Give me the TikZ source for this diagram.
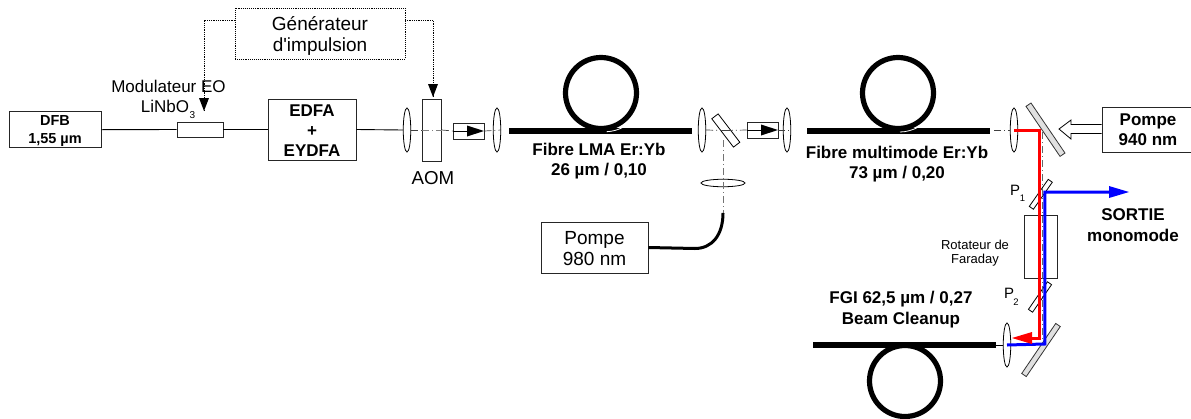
\documentclass[tikz,border=0pt]{standalone}
\usepackage{fontspec}
\setmainfont{Liberation Sans}
\newfontfamily\plainf{Liberation Sans}
\usetikzlibrary{shapes.geometric,calc}
\newcommand{\fs}[2]{\fontsize{#1}{#2}\selectfont}
\definecolor{edge}{gray}{0.15}
\definecolor{plate}{gray}{0.88}
\tikzset{
  box/.style={draw=edge,line width=0.9pt,fill=white,inner sep=0pt,align=center},
  lensv/.style={ellipse,draw=black,line width=0.8pt,fill=white,inner sep=0pt,minimum width=7.5pt,minimum height=44pt},
  lensh/.style={ellipse,draw=black,line width=0.8pt,fill=white,inner sep=0pt,minimum width=44pt,minimum height=7.5pt},
  txt/.style={inner sep=0pt,align=center,text=black},
  wire/.style={draw=black,line width=0.9pt},
  axis/.style={draw=black!75,line width=0.7pt,dash pattern=on 7pt off 3pt on 1pt off 3pt},
  ctl/.style={draw=black,line width=0.8pt,densely dotted},
  fibre/.style={draw=black,line width=6pt},
  loopf/.style={draw=black,line width=5.2pt},
  gapline/.style={draw=white,line width=0.8pt},
  plategray/.style={draw=black!80,line width=0.8pt,fill=plate,inner sep=0pt},
  platewhite/.style={draw=black,line width=0.8pt,fill=white,inner sep=0pt},
  redb/.style={draw=red,line width=3pt},
  blueb/.style={draw=blue,line width=3pt},
}
\begin{document}
\begin{tikzpicture}[x=1pt,y=-1pt]
\useasboundingbox (0,0) rectangle (1191,418);

% main boxes
\node[box,minimum width=92pt,minimum height=36pt] (dfb) at (55,129.7) {};
\node[txt,font=\bfseries\fs{14.5}{18}] (dfbt) at (55,131) {DFB\\1,55 µm};
\node[box,minimum width=46pt,minimum height=15pt] (mod) at (200,129.5) {};
\node[box,minimum width=88pt,minimum height=61pt] (edfa) at (312,129.5) {};
\node[txt,font=\bfseries\fs{17}{20}] (edfat) at (312,131) {EDFA\\+\\EYDFA};
\node[box,draw=black,densely dotted,line width=0.8pt,minimum width=170pt,minimum height=51pt] (gen) at (320,33.5) {};
\node[txt,font=\fs{19}{21}] (gent) at (320,36) {Générateur\\{\plainf d'impulsion}};
\coordinate (genl) at (235,20);
\coordinate (genr) at (405,20);
\coordinate (modtip) at (204,111);
\coordinate (aomtip) at (433,97);

% connectors of the seed
\draw[wire] (dfb.east) -- (mod.west);
\draw[wire] (mod.east) -- (edfa.west);

% AOM section
\node[lensv] (l1) at (407,130) {};
\draw[wire] (edfa.east) -- (l1.west);
\node[box,minimum width=19pt,minimum height=62pt] (aom) at (432,130) {};
\node[lensv] (l2) at (497,130) {};
\node[box,minimum width=31pt,minimum height=16pt] (iso1) at (468.5,131) {};
\draw[axis] (l1.east) -- (aom.west);
\draw[axis,draw=black!50] (aom.west) -- (aom.east);
\draw[axis] (aom.east) -- (iso1.west);
\draw[axis] (iso1.east) -- (l2.east);
\draw[wire] (iso1.west) -- ++(16,0);
\fill[black] (484,131) -- (467,125.5) -- (467,136.5) -- cycle;

% control lines
\draw[ctl] (genl) -| (modtip);
\fill[black] (204,111) -- (199,98) -- (209,98) -- cycle;
\draw[ctl] (genr) -| (aomtip);
\fill[black] (433,97) -- (428,84) -- (438,84) -- cycle;

% labels
\node[txt,font=\fs{17}{17}] (modl) at (168.5,86) {Modulateur EO};
\node[txt,font=\fs{17}{17}] (libn) at (165,106) {LiNbO};
\node[txt,font=\fs{10}{10}] (libns) at (192.5,115.5) {3};
\node[txt,font=\fs{18.7}{19}] (aoml) at (433,178) {AOM};

% fibre LMA
\node[lensv] (l3) at (702,130) {};
\draw[loopf] (601,93) circle (35.5);
\draw[fibre] (509,130.5) -- (692,130.5);
\draw[gapline] (606.7,131.7) .. controls (612,131.5) and (618,130) .. (623,127.3);
\node[txt,font=\bfseries\fs{17}{19.5}] (lmat) at (599,161) {Fibre LMA Er:Yb\\26 µm / 0,10};

% dichroic + 980 pump
\node[lensh] (l4) at (723,183) {};
\node[platewhite,rotate=-52.6,minimum width=35.7pt,minimum height=8pt] (m1) at (725.8,130.5) {};
\node[box,minimum width=107pt,minimum height=51pt] (p980) at (594.5,247.5) {};
\node[txt,font=\fs{19}{21}] (p980t) at (594.5,248.5) {Pompe\\980 nm};
\coordinate (fp) at (723,213);
\coordinate (mf) at (723,140);
\draw[axis,draw=black!55,line width=0.9pt] (mf) -- (fp);
\draw[black,line width=3pt] (p980.east) -- (695,248.5) .. controls (712,248.5) and (723,235) .. (fp);
\node[box,minimum width=31pt,minimum height=16pt] (iso2) at (762.5,130) {};
\node[lensv] (l5) at (787,130) {};
\draw[axis] (l3.east) -- (m1.center);
\draw[axis] (m1.center) -- (iso2.west);
\draw[wire] (iso2.west) -- ++(16,0);
\fill[black] (778,130) -- (761,124.5) -- (761,135.5) -- cycle;
\draw[axis] (iso2.east) -- (l5.east);

% fibre multimode
\draw[loopf] (898,93) circle (35.5);
\draw[fibre] (807,130.5) -- (990,130.5);
\draw[gapline] (900,132) .. controls (906,132) and (913,130) .. (918,127.3);
\node[txt,font=\bfseries\fs{17}{19.5}] (mmt) at (897,164) {Fibre multimode Er:Yb\\73 µm / 0,20};

% output section
\node[lensv] (l6) at (1014,130) {};
\coordinate (f2end) at (994,130);
\draw[axis] (f2end) -- (l6.west);
\node[plategray,rotate=-55.8,minimum width=60.5pt,minimum height=6pt] (m2) at (1045.5,129.7) {};
\node[box,minimum width=90pt,minimum height=45pt] (p940) at (1147,129.5) {};
\node[txt,font=\bfseries\fs{17}{20}] (p940t) at (1148,130) {Pompe\\940 nm};
\draw[draw=black,line width=0.8pt,fill=white] (p940.west |- 0,124.5) -- (1071,124.5) -- (1071,120) -- (1059,129) -- (1071,139) -- (1071,133.5) -- (p940.west |- 0,133.5);

\node[platewhite,rotate=55,minimum width=33pt,minimum height=5pt] (p1) at (1040.8,194.3) {};
\node[platewhite,rotate=55.4,minimum width=33.5pt,minimum height=5pt] (p2) at (1040,297) {};
\node[plategray,rotate=55.8,minimum width=60.5pt,minimum height=5.5pt] (m3) at (1041,350) {};
\node[box,fill=none,minimum width=33pt,minimum height=63pt] (far) at (1040.5,246.5) {};
\node[txt,font=\fs{13}{14}] (fart) at (975,253) {Rotateur de\\Faraday};
\node[txt,font=\fs{15}{15}] (p1t) at (1015,190) {P};
\node[txt,font=\fs{9.5}{10}] (p1s) at (1022.5,198) {1};
\node[txt,font=\fs{15}{15}] (p2t) at (1009,293) {P};
\node[txt,font=\fs{9.5}{10}] (p2s) at (1016,302) {2};

% bottom fibre
\node[lensv] (l7) at (1007,345) {};
\begin{scope}
\clip (0,0) rectangle (1191,418);
\draw[loopf] (905,381) circle (35.5);
\end{scope}
\draw[fibre] (813,345) -- (996,345);
\draw[wire] (996,345) -- (l7.west);
\node[txt,font=\bfseries\fs{17}{20.5}] (fgit) at (901,309.5) {FGI 62,5 µm / 0,27\\Beam Cleanup};

% beams
\draw[blueb] (l7.center) -- (1044.8,344) -- (1044.8,192) -- (1110,192);
\fill[blue] (1129,192) -- (1109,186) -- (1109,198) -- cycle;
\draw[redb,line cap=butt] (l6.center) -- (1039.2,130) -- (1039.2,338) -- (1030,338);
\fill[red] (1012,338) -- (1032,332) -- (1032,344) -- cycle;
\draw[axis,line width=0.7pt,draw=black!60] (1042,132) -- (1042,340);

\node[txt,font=\bfseries\fs{17}{21}] (sortie) at (1133,225) {SORTIE\\monomode};
\end{tikzpicture}
\end{document}
